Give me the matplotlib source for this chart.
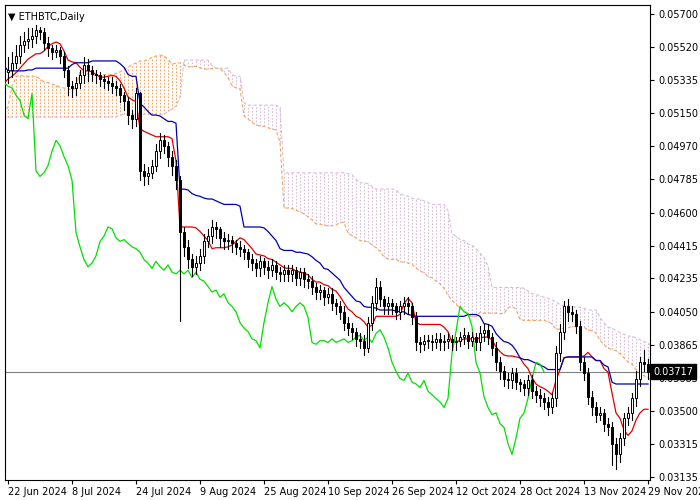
import numpy as np
import pandas as pd
import matplotlib
matplotlib.use("Agg")
import matplotlib.pyplot as plt
from matplotlib.patches import Rectangle

# history before the visible window (needed for Ichimoku lines)
pre_close = [.0478,.0475,.0472,.0470,.0468,.0472,.0475,.0480,.0482,.0479,
 .0476,.0473,.0470,.0468,.0465,.0462,.0460,.0463,.0466,.0468,
 .0471,.0474,.0476,.0473,.0470,.0467,.0464,.0461,.0458,.0460,
 .0463,.0466,.0469,.0467,.0464,.0462,.0465,.0468,.0466,.0463,
 .0461,.0464,.0467,.0470,.0480,.0525,.0545,.0552,.0556,.0560,
 .0565,.0568,.0562,.0556,.0551,.0548,.0545,.0549,.0553,.0556,
 .0552,.0547,.0543,.0540,.0537,.0533,.0528,.0524,.0521,.0525,
 .0530,.0534,.0530,.0527,.0530,.0533,.0536,.0538]

close = [.0539,.0543,.0547,.0553,.0555,.0556,.0558,.0561,.0560,.0554,
 .0551,.0549,.0550,.0547,.0539,.0530,.0529,.0532,.0536,.0542,
 .0539,.0537,.0536,.0534,.0533,.0532,.0530,.0529,.0525,.0522,
 .0514,.0512,.0526,.0483,.0480,.0482,.0486,.0494,.0500,.0497,
 .0491,.0486,.0478,.0449,.0441,.0434,.0430,.0432,.0436,.0444,
 .0447,.0452,.0451,.0446,.0444,.0445,.0443,.0441,.0440,.0438,
 .0434,.0432,.0429,.0433,.0430,.0428,.0431,.0427,.0426,.0428,
 .0426,.0428,.0424,.0427,.0423,.0422,.0419,.0416,.0417,.0413,
 .0415,.0410,.0408,.0405,.0399,.0396,.0394,.0390,.0389,.0385,
 .0399,.0410,.0419,.0412,.0408,.0410,.0408,.0405,.0408,.0410,
 .0408,.0402,.0388,.0387,.0389,.0389,.0388,.0390,.0388,.0389,
 .0390,.0388,.0389,.0391,.0392,.0389,.0391,.0388,.0393,.0395,
 .0391,.0385,.0377,.0372,.0368,.0367,.0371,.0366,.0365,.0363,
 .0367,.0361,.0359,.0357,.0355,.0352,.0357,.0382,.0394,.0408,
 .0405,.0404,.0397,.0377,.0371,.0358,.0352,.0348,.0349,.0343,
 .0341,.0332,.0326,.0335,.0346,.0349,.0357,.0368,.0377,.0376,.03717]

high = [.0546,.0549,.0553,.0558,.0560,.0562,.0562,.0564,.0563,.0562,
 .0557,.0553,.0553,.0552,.0549,.0541,.0533,.0535,.0539,.0546,
 .0545,.0541,.0539,.0538,.0536,.0535,.0535,.0533,.0531,.0527,
 .0524,.0517,.0529,.0527,.0487,.0485,.0489,.0498,.0504,.0503,
 .0499,.0494,.0489,.0480,.0452,.0445,.0437,.0436,.0440,.0448,
 .0451,.0456,.0455,.0452,.0449,.0448,.0447,.0445,.0444,.0442,
 .0440,.0437,.0434,.0436,.0435,.0433,.0434,.0433,.0430,.0431,
 .0431,.0431,.0430,.0429,.0429,.0426,.0425,.0421,.0420,.0419,
 .0418,.0418,.0412,.0411,.0408,.0402,.0399,.0396,.0393,.0392,
 .0402,.0414,.0424,.0422,.0414,.0413,.0412,.0410,.0411,.0413,
 .0413,.0410,.0405,.0391,.0392,.0392,.0392,.0393,.0393,.0392,
 .0393,.0392,.0391,.0394,.0396,.0394,.0394,.0393,.0397,.0398,
 .0398,.0393,.0388,.0380,.0375,.0371,.0374,.0374,.0368,.0367,
 .0370,.0370,.0364,.0362,.0360,.0358,.0360,.0386,.0398,.0411,
 .0412,.0408,.0406,.0400,.0380,.0374,.0361,.0355,.0352,.0351,
 .0346,.0344,.0335,.0338,.0349,.0352,.0360,.0372,.0380,.0384,.0379]

low = [.0532,.0535,.0540,.0543,.0549,.0551,.0552,.0554,.0556,.0550,
 .0547,.0545,.0546,.0543,.0535,.0525,.0524,.0525,.0529,.0532,
 .0533,.0533,.0532,.0530,.0529,.0528,.0526,.0525,.0521,.0517,
 .0509,.0507,.0508,.0478,.0475,.0476,.0479,.0483,.0490,.0493,
 .0486,.0481,.0473,.0400,.0436,.0429,.0425,.0426,.0428,.0432,
 .0441,.0443,.0446,.0441,.0440,.0440,.0438,.0437,.0436,.0434,
 .0430,.0428,.0425,.0425,.0426,.0424,.0425,.0423,.0422,.0422,
 .0422,.0422,.0420,.0420,.0419,.0418,.0415,.0412,.0412,.0409,
 .0410,.0406,.0404,.0401,.0395,.0392,.0390,.0386,.0385,.0381,
 .0383,.0395,.0406,.0408,.0404,.0404,.0404,.0401,.0401,.0404,
 .0404,.0398,.0384,.0383,.0384,.0385,.0384,.0385,.0384,.0384,
 .0385,.0384,.0384,.0386,.0387,.0385,.0386,.0384,.0384,.0389,
 .0387,.0381,.0373,.0368,.0364,.0363,.0363,.0362,.0361,.0359,
 .0359,.0357,.0355,.0353,.0351,.0348,.0349,.0353,.0378,.0390,
 .0400,.0400,.0393,.0373,.0367,.0354,.0348,.0344,.0345,.0339,
 .0337,.0320,.0318,.0322,.0331,.0342,.0345,.0353,.0364,.0372,.0368]

ytick_vals = [0.05700,0.05520,0.05335,0.05150,0.04970,0.04785,0.04600,0.04415,
              0.04235,0.04050,0.03865,0.03683,0.03500,0.03315,0.03135]
xtick_labels = ["22 Jun 2024","8 Jul 2024","24 Jul 2024","9 Aug 2024","25 Aug 2024",
                "10 Sep 2024","26 Sep 2024","12 Oct 2024","28 Oct 2024","13 Nov 2024","29 Nov 2024"]
last_price = 0.03717

npre = len(pre_close)
c_all = np.array(pre_close + close)
h_all = np.concatenate([np.array(pre_close) + 0.0005, high])
l_all = np.concatenate([np.array(pre_close) - 0.0005, low])
o_vis = np.concatenate([[pre_close[-1]], close[:-1]])
n = len(c_all)
H = pd.Series(h_all); L = pd.Series(l_all)
tenkan = (H.rolling(9).max() + L.rolling(9).min()) / 2
kijun = (H.rolling(26).max() + L.rolling(26).min()) / 2
spanA = (tenkan + kijun) / 2
spanB = (H.rolling(52).max() + L.rolling(52).min()) / 2
xs = np.arange(n)

fig = plt.figure(figsize=(7, 5), dpi=100)
ax = fig.add_axes([5/700, 20/500, 645/700, 475/500])
ax.set_facecolor("white")

# cloud (shifted 26 forward)
xc = xs + 26
for xi, a, b in zip(xc, spanA, spanB):
    if np.isnan(a) or np.isnan(b):
        continue
    col = "#F4A460" if a >= b else "#D8BFD8"
    ax.plot([xi, xi], [min(a, b), max(a, b)], color=col, lw=0.8, ls=(0, (1.5, 1.5)), zorder=1)
ax.plot(xc, spanA, color="#F4A460", lw=0.8, ls=(0, (3, 2)), zorder=1)
ax.plot(xc, spanB, color="#D8BFD8", lw=0.8, ls=(0, (3, 2)), zorder=1)

ax.axhline(last_price, color="#808080", lw=0.8, zorder=2)

ax.plot(xs, tenkan, color="#E00000", lw=0.9, zorder=3)
ax.plot(xs, kijun, color="#0000B0", lw=0.9, zorder=3)
ax.plot(xs - 26, c_all, color="#00E000", lw=0.9, zorder=3)

# candles
for i in range(len(close)):
    x = npre + i
    o, c, hi, lo = o_vis[i], close[i], high[i], low[i]
    ax.plot([x, x], [lo, hi], color="black", lw=0.8, zorder=4)
    bull = c >= o
    ax.add_patch(Rectangle((x - 0.35, min(o, c)), 0.7, max(abs(c - o), 0.00003),
                           facecolor="white" if bull else "black", edgecolor="black",
                           lw=0.7, zorder=5))

ax.set_xlim(npre - 0.75, npre - 0.75 + 161.25)
ax.set_ylim(0.03118, 0.0575)

ax.yaxis.tick_right()
ax.set_yticks(ytick_vals)
ax.set_yticklabels([f"{v:.5f}" for v in ytick_vals], fontsize=7)
ax.tick_params(axis="y", length=3, pad=3)
xt = [npre + 16 * k for k in range(len(xtick_labels))]
ax.set_xticks(xt)
ax.set_xticklabels(xtick_labels, fontsize=7, ha="left")
ax.tick_params(axis="x", length=3, pad=2)
for s in ax.spines.values():
    s.set_linewidth(0.8)

ax.text(last_price and 1.005, last_price, "0.03717", transform=ax.get_yaxis_transform(),
        fontsize=7, color="white", va="center", ha="left",
        bbox=dict(boxstyle="square,pad=0.25", fc="black", ec="black"), clip_on=False, zorder=10)
ax.text(0.005, 0.985, "▼ ETHBTC,Daily", transform=ax.transAxes, fontsize=7, va="top", ha="left")

fig.savefig("out.png", dpi=100)
